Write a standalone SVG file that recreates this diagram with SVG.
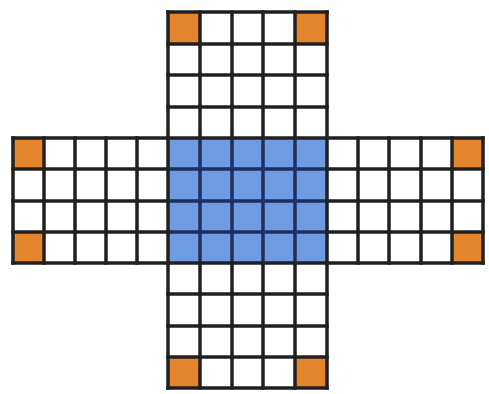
<svg xmlns="http://www.w3.org/2000/svg" width="489" height="394" viewBox="0 0 489 394">
<style>
.bg{fill:#ffffff}
.or{fill:#e4852e}
.bl{fill:#6f9ae4}
.ln{stroke:#202020;stroke-width:3.5;fill:none;stroke-linecap:square}
.lb{stroke:#1c2f5e;stroke-width:3.5;fill:none}
</style>
<rect class="bg" x="0" y="0" width="489" height="394"/>
<g id="fills">
<rect class="bl" x="168" y="138" width="159" height="125"/>
<rect class="or" x="168" y="12" width="32" height="32"/>
<rect class="or" x="295" y="12" width="32" height="32"/>
<rect class="or" x="168" y="357" width="32" height="31"/>
<rect class="or" x="295" y="357" width="32" height="31"/>
<rect class="or" x="13" y="138" width="31" height="31"/>
<rect class="or" x="13" y="232" width="31" height="31"/>
<rect class="or" x="452" y="138" width="31" height="31"/>
<rect class="or" x="452" y="232" width="31" height="31"/>
</g>
<g id="grid">
<path class="ln" d="M168 12V388M200 12V138M232 12V138M263 12V138M295 12V138M327 12V388M200 263V388M232 263V388M263 263V388M295 263V388"/>
<path class="ln" d="M13 138H483M13 263H483M13 169H168M13 201H168M13 232H168M327 169H483M327 201H483M327 232H483"/>
<path class="ln" d="M168 12H327M168 44H327M168 75H327M168 107H327M168 294H327M168 326H327M168 357H327M168 388H327"/>
<path class="ln" d="M13 138V263M44 138V263M75 138V263M106 138V263M137 138V263M358 138V263M389 138V263M421 138V263M452 138V263M483 138V263"/>
<path class="lb" d="M200 140V261M232 140V261M263 140V261M295 140V261M170 169H325M170 201H325M170 232H325"/>
</g>
</svg>
